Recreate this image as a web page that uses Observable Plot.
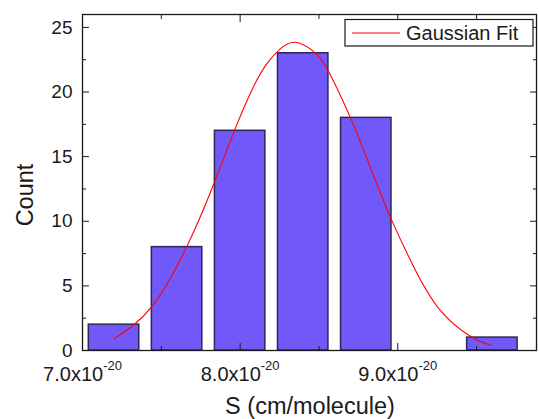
<!DOCTYPE html>
<html><head><meta charset="utf-8">
<script src="https://cdn.jsdelivr.net/npm/d3@7"></script>
<script src="https://cdn.jsdelivr.net/npm/@observablehq/plot@0.6"></script>
<style>
body{margin:0;background:#fff;}
#chart{width:539px;height:419px;}
</style>
</head><body><div id="chart"></div>
<script>
// S values are in units of 1e-20 cm/molecule
const binStart = [7.0, 7.4, 7.8, 8.2, 8.6, 9.0, 9.4];
const binEnd   = [7.4, 7.8, 8.2, 8.6, 9.0, 9.4, 9.8];
const counts   = [2, 8, 17, 23, 18, 0, 1];

// Gaussian fit curve
const fitS     = [7.20, 7.44, 7.66, 7.82, 7.96, 8.08, 8.17, 8.26, 8.35, 8.46, 8.56, 8.70, 8.78, 8.88, 8.95, 9.10, 9.27, 9.46, 9.59];
const fitCount = [0.9, 3.4, 8.0, 12.5, 16.9, 20.3, 22.2, 23.4, 23.85, 23.2, 21.6, 18.0, 15.6, 12.5, 10.4, 6.5, 3.1, 1.1, 0.4];

const xMajorTicks = [7, 8, 9];
const xMinorTicks = [7.5, 8.5, 9.5];
const yMajorTicks = [0, 5, 10, 15, 20, 25];
const yMinorTicks = [2.5, 7.5, 12.5, 17.5, 22.5];
const exponentLabel = "-20";
const seriesLabel = "Gaussian Fit";
const xTitle = "S (cm/molecule)";
const yTitle = "Count";

const bars = binStart.map((lo, i) => ({lo, hi: binEnd[i], count: counts[i]})).filter(d => d.count > 0);
const fit = fitS.map((s, i) => ({s, c: fitCount[i]}));

const FONT = "'Liberation Sans', Arial, Helvetica, sans-serif";
const axisColor = "#1a1a1a";

const plot = Plot.plot({
  width: 539,
  height: 419,
  marginLeft: 82,
  marginRight: 3,
  marginTop: 14,
  marginBottom: 69,
  style: {fontFamily: FONT, background: "#fff", color: axisColor},
  x: {domain: [7.0, 9.88]},
  y: {domain: [0, 26]},
  marks: [
    Plot.rectY(bars, {x1: "lo", x2: "hi", y1: 0, y2: "count", fill: "#7059f8", stroke: "#2a2855", strokeWidth: 1.5, insetLeft: 6.3, insetRight: 6.3}),
    Plot.line(fit, {x: "s", y: "c", stroke: "#ff0000", strokeWidth: 1.1, curve: "natural"}),
    Plot.frame({stroke: axisColor, strokeWidth: 1.3}),
    // inward ticks: bottom, top, left, right
    Plot.axisX({ticks: xMajorTicks, tickSize: 7, dy: -7, fill: "none", label: null}),
    Plot.axisX({ticks: xMinorTicks, tickSize: 4, dy: -4, fill: "none", label: null}),
    Plot.axisX({anchor: "top", ticks: xMajorTicks, tickSize: 7, dy: 7, fill: "none", label: null}),
    Plot.axisX({anchor: "top", ticks: xMinorTicks, tickSize: 4, dy: 4, fill: "none", label: null}),
    Plot.axisY({ticks: yMajorTicks, tickSize: 7, dx: 7, fill: "none", label: null}),
    Plot.axisY({ticks: yMinorTicks, tickSize: 4, dx: 4, fill: "none", label: null}),
    Plot.axisY({anchor: "right", ticks: yMajorTicks, tickSize: 7, dx: -7, fill: "none", label: null}),
    Plot.axisY({anchor: "right", ticks: yMinorTicks, tickSize: 4, dx: -4, fill: "none", label: null}),
    // tick labels
    Plot.axisX({ticks: xMajorTicks, tickSize: 0, tickPadding: 16, fontSize: 20, label: null,
      tickFormat: d => d.toFixed(1) + "x10^" + exponentLabel}),
    Plot.axisY({ticks: yMajorTicks, tickSize: 0, tickPadding: 10, fontSize: 19, label: null,
      tickFormat: d => String(d)})
  ]
});

document.getElementById("chart").appendChild(plot);
const svg = d3.select(plot);

// superscript exponents on the x tick labels
svg.selectAll("text").each(function() {
  const t = d3.select(this);
  const s = this.textContent;
  if (s.includes("^")) {
    const [base, exp] = s.split("^");
    t.text(null);
    t.append("tspan").text(base);
    t.append("tspan").attr("dy", -11).attr("font-size", 13).text(exp);
  }
});

// axis titles
svg.append("text")
  .attr("x", 310).attr("y", 414)
  .attr("text-anchor", "middle")
  .attr("font-family", FONT).attr("font-size", 23.5).attr("fill", axisColor)
  .text(xTitle);
svg.append("text")
  .attr("transform", "translate(33,195) rotate(-90)")
  .attr("text-anchor", "middle")
  .attr("font-family", FONT).attr("font-size", 23.5).attr("fill", axisColor)
  .text(yTitle);

// legend
const lg = svg.append("g").attr("text-anchor", "start");
lg.append("rect").attr("x", 345).attr("y", 19.5).attr("width", 188).attr("height", 26.5)
  .attr("fill", "#fff").attr("stroke", axisColor).attr("stroke-width", 1.2);
lg.append("line").attr("x1", 352).attr("x2", 400).attr("y1", 33).attr("y2", 33)
  .attr("stroke", "#ff0000").attr("stroke-width", 1.1);
lg.append("text").attr("x", 406).attr("y", 40).attr("text-anchor", "start")
  .attr("font-family", FONT).attr("font-size", 20).attr("fill", axisColor)
  .text(seriesLabel);
</script>
</body></html>
